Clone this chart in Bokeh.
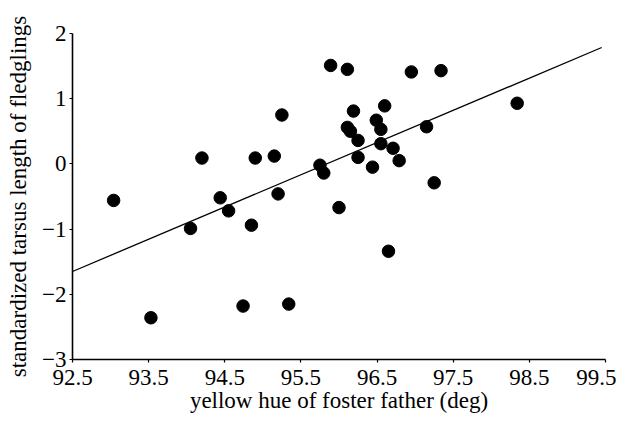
from bokeh.plotting import figure
from bokeh.models import FixedTicker, Range1d, ColumnDataSource
from bokeh.embed import file_html
from bokeh.resources import INLINE

# data
hue = [93.04, 93.53, 94.05, 94.20, 94.44, 94.55, 94.74, 94.85, 94.90, 95.15,
       95.20, 95.25, 95.34, 95.75, 95.80, 95.89, 96.00, 96.11, 96.11, 96.15,
       96.19, 96.25, 96.25, 96.44, 96.49, 96.55, 96.55, 96.60, 96.65, 96.71,
       96.79, 96.95, 97.15, 97.25, 97.34, 98.34]
tarsus = [-0.56, -2.36, -0.99, 0.09, -0.52, -0.72, -2.18, -0.94, 0.09, 0.12,
          -0.46, 0.75, -2.15, -0.02, -0.14, 1.51, -0.67, 1.45, 0.56, 0.50,
          0.81, 0.36, 0.10, -0.05, 0.67, 0.53, 0.31, 0.89, -1.34, 0.24,
          0.05, 1.41, 0.57, -0.29, 1.43, 0.93]
fit_x = [92.5, 99.45]
fit_y = [-1.65, 1.785]
x_ticks = [92.5, 93.5, 94.5, 95.5, 96.5, 97.5, 98.5, 99.5]
x_tick_labels = ["92.5", "93.5", "94.5", "95.5", "96.5", "97.5", "98.5", "99.5"]
y_ticks = [-3, -2, -1, 0, 1, 2]
y_tick_labels = ["\u22123", "\u22122", "\u22121", "0", "1", "2"]

FONT = "Liberation Serif"

p = figure(width=616, height=420, output_backend="svg", toolbar_location=None,
           x_range=Range1d(92.5, 99.5), y_range=Range1d(-3, 2),
           min_border_left=72, min_border_right=11, min_border_top=33,
           min_border_bottom=61)
p.background_fill_color = "white"
p.border_fill_color = "white"
p.outline_line_color = None
p.xgrid.visible = False
p.ygrid.visible = False

p.line(fit_x, fit_y, line_color="black", line_width=1.3)
src = ColumnDataSource(dict(x=hue, y=tarsus))
p.scatter("x", "y", source=src, size=12.5, fill_color="black", line_color="black")

p.xaxis.ticker = FixedTicker(ticks=x_ticks)
p.xaxis.major_label_overrides = {t: l for t, l in zip(x_ticks, x_tick_labels)}
p.yaxis.ticker = FixedTicker(ticks=y_ticks)
p.yaxis.major_label_overrides = {t: l for t, l in zip(y_ticks, y_tick_labels)}

p.xaxis.axis_label = "yellow hue of foster father (deg)"
p.yaxis.axis_label = "standardized tarsus length of fledglings"

for ax in (p.xaxis[0], p.yaxis[0]):
    ax.axis_line_color = "black"
    ax.axis_line_width = 1.6
    ax.major_tick_line_color = "black"
    ax.major_tick_line_width = 1.2
    ax.major_tick_in = 0
    ax.major_tick_out = 3
    ax.minor_tick_line_color = None
    ax.major_label_text_font = FONT
    ax.major_label_text_font_size = "23px"
    ax.major_label_text_color = "black"
    ax.axis_label_text_font = FONT
    ax.axis_label_text_font_size = "23px"
    ax.axis_label_text_font_style = "normal"
    ax.axis_label_text_color = "black"
    ax.axis_label_standoff = 0
    ax.major_label_standoff = 3

p.xaxis[0].major_label_standoff = 7
p.yaxis[0].axis_label_standoff = 8

open("out.html", "w").write(file_html(p, INLINE))
